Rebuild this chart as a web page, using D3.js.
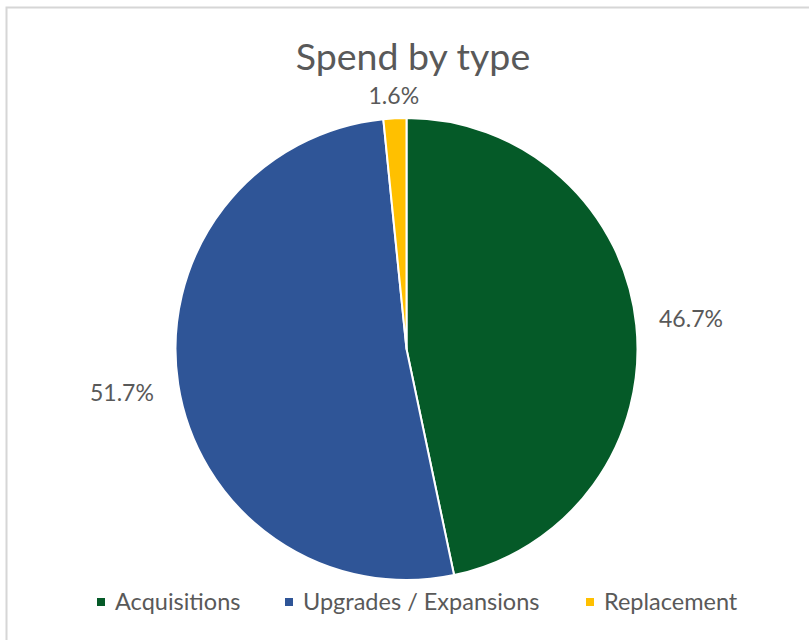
<!DOCTYPE html>
<html>
<head>
<meta charset="utf-8">
<script src="https://cdn.jsdelivr.net/npm/d3@7"></script>
<style>
  html, body { margin: 0; padding: 0; background: #fff; }
  svg { display: block; }
</style>
</head>
<body>
<svg id="chart" width="809" height="640"></svg>
<script>
// Spend share by type, in percent
const categories = ["Acquisitions", "Upgrades / Expansions", "Replacement"];
const values = [46.7, 51.7, 1.6];
const colors = ["#055a28", "#2f5597", "#ffc000"];
const labelText = ["46.7%", "51.7%", "1.6%"];

const svg = d3.select("#chart");
const W = 809, H = 640;
const font = "Lato, 'Open Sans', sans-serif";
const textColor = "#595959";

// chart frame
svg.append("rect").attr("x", 6.5).attr("y", 7.5).attr("width", W).attr("height", H)
  .attr("fill", "#fff").attr("stroke", "#d6d6d6").attr("stroke-width", 2);

// title
svg.append("text")
  .attr("x", 413).attr("y", 70)
  .attr("text-anchor", "middle")
  .attr("font-family", font).attr("font-size", 37.5)
  .attr("fill", textColor)
  .text("Spend by type");

const cx = 406.5, cy = 349, r = 231;
const g = svg.append("g").attr("transform", `translate(${cx},${cy})`);

const data = categories.map((c, i) => ({ cat: c, value: values[i], color: colors[i], label: labelText[i] }));
const pie = d3.pie().value(d => d.value).sort(null);
const arcs = pie(data);
const arc = d3.arc().innerRadius(0).outerRadius(r);

g.selectAll("path.slice")
  .data(arcs)
  .join("path")
  .attr("class", "slice")
  .attr("d", arc)
  .attr("fill", d => d.data.color)
  .attr("stroke", "#fff")
  .attr("stroke-width", 2)
  .attr("stroke-linejoin", "round");

// data labels placed just outside the pie edge
const labelRadius = [r + 55, r + 57, r + 22];
g.selectAll("text.lbl")
  .data(arcs)
  .join("text")
  .attr("class", "lbl")
  .attr("transform", (d, i) => {
    const a = (d.startAngle + d.endAngle) / 2;
    const rr = labelRadius[i];
    return `translate(${Math.sin(a) * rr},${-Math.cos(a) * rr})`;
  })
  .attr("text-anchor", "middle")
  .attr("dy", "0.35em")
  .attr("font-family", font).attr("font-size", 23)
  .attr("fill", textColor)
  .text(d => d.data.label);

// legend
const legendX = [97, 285, 586];
const lg = svg.append("g");
categories.forEach((c, i) => {
  const item = lg.append("g").attr("transform", `translate(${legendX[i]},602)`);
  item.append("rect").attr("x", 0).attr("y", -4).attr("width", 8).attr("height", 8)
    .attr("fill", colors[i]);
  item.append("text").attr("x", 18).attr("y", 0).attr("dy", "0.35em")
    .attr("font-family", font).attr("font-size", 23.5)
    .attr("fill", textColor).text(c);
});
</script>
</body>
</html>
